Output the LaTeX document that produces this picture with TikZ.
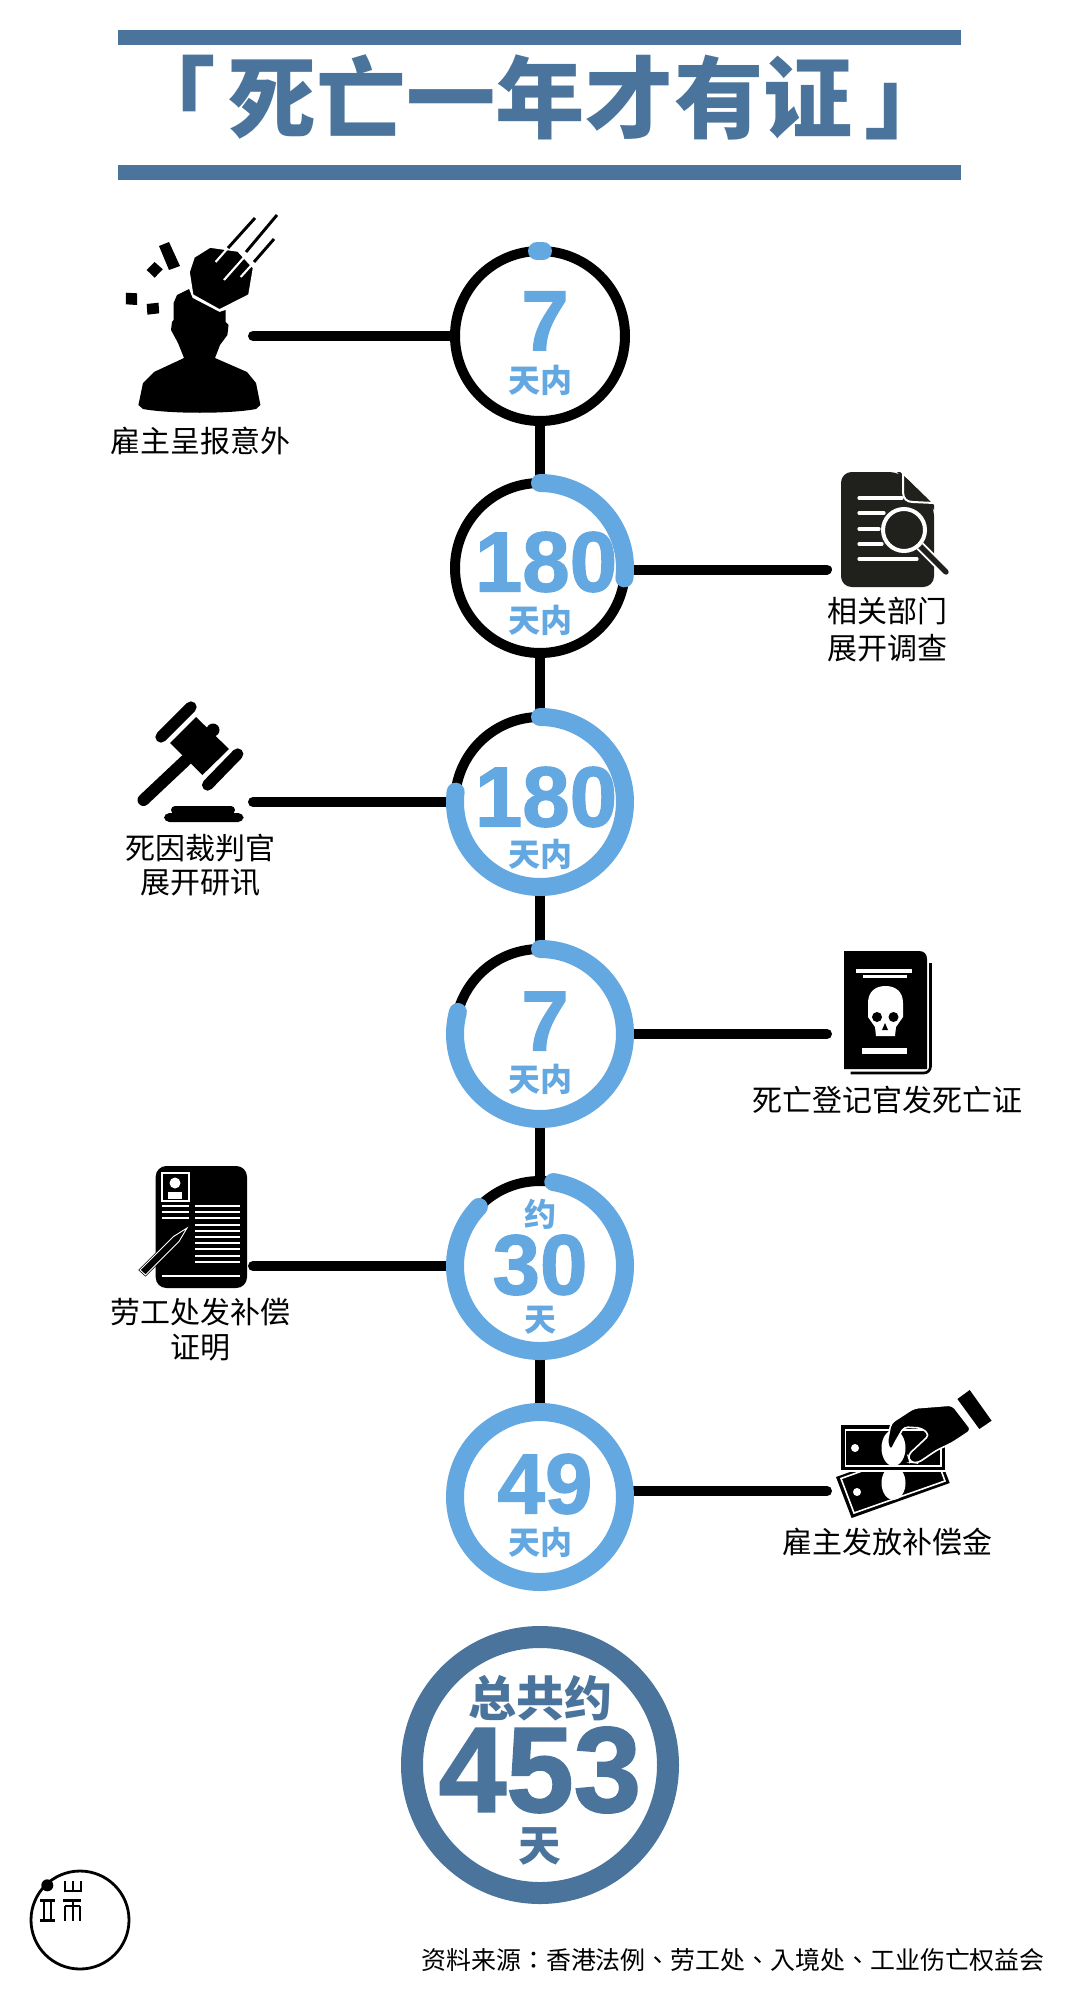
\documentclass[tikz,border=0pt]{standalone}
\usepackage{fontspec}
\usepackage{xcolor}
\usetikzlibrary{backgrounds}
\setmainfont{Liberation Sans}
\newfontfamily\numfont[BoldFeatures={FakeBold=1.5}]{Liberation Sans}
\newfontfamily\cjk{Noto Sans CJK SC}
\newfontfamily\cjkheavy{Noto Sans CJK SC Black}
\newfontfamily\cjktc{Noto Sans CJK TC}
\definecolor{dayblue}{HTML}{64A8E2}
\definecolor{totalblue}{HTML}{4A749B}
\definecolor{docgray}{HTML}{20201C}
\tikzset{
    ring/.style={circle,draw=black,line width=7.5pt,minimum size=127.5pt,inner sep=0pt},
    totalring/.style={circle,draw=totalblue,line width=16.5pt,minimum size=192pt,inner sep=0pt},
    link/.style={draw=black,line width=7.5pt,line cap=round},
    progress/.style={draw=dayblue,line width=13.5pt,line cap=round},
    daynum/.style={inner sep=0pt,text=dayblue,font=\numfont\bfseries\fontsize{64}{64}\selectfont},
    dayunit/.style={inner sep=0pt,text=dayblue,font=\cjk\bfseries\fontsize{24}{24}\selectfont},
    caption/.style={inner sep=0pt,text=black,font=\cjk\fontsize{22.5}{22.5}\selectfont},
    whiteline/.style={draw=white,line width=2.4pt,line cap=round}
}
\newcommand{\dayarc}[3]{% node, start angle, sweep
    \draw[progress] ([shift={(#2:85)}]#1.center) arc[start angle=#2,delta angle=#3,radius=85];
}
\begin{document}
\begin{tikzpicture}[x=0.75pt,y=-0.75pt]
    \useasboundingbox (0,0) rectangle (1080,2001);
    % Title
    \fill[totalblue] (118,30) rectangle (961,45);
    \fill[totalblue] (118,165) rectangle (961,180);
    \node[inner sep=0pt,text=totalblue,font=\cjkheavy\fontsize{67}{67}\selectfont] (title) at (540,97) {「\hspace{0.13em}死亡一年才有证\hspace{0.13em}」};
    % Rings
    \node[ring] (day1) at (540,336) {};
    \node[ring] (day2) at (540,568) {};
    \node[ring] (day3) at (540,802) {};
    \node[ring] (day4) at (540,1034) {};
    \node[ring] (day5) at (540,1266) {};
    \node[ring,draw=dayblue,line width=13.5pt] (day6) at (540,1497) {};
    \node[totalring] (total) at (540,1765) {};
    % Connectors
    \coordinate (end1) at (253,336);
    \coordinate (end2) at (827,569.5);
    \coordinate (end3) at (253,802);
    \coordinate (end4) at (827,1034);
    \coordinate (end5) at (253,1266);
    \coordinate (end6) at (827,1491);
    \begin{scope}[on background layer]
        \draw[link,line cap=butt] (day1) -- (day2);
        \draw[link,line cap=butt] (day2) -- (day3);
        \draw[link,line cap=butt] (day3) -- (day4);
        \draw[link,line cap=butt] (day4) -- (day5);
        \draw[link,line cap=butt] (day5) -- (day6);
        \draw[link] (end1) -- (day1);
        \draw[link] (end2) -- (day2.east |- end2);
        \draw[link] (end3) -- (day3);
        \draw[link] (end4) -- (day4);
        \draw[link] (end5) -- (day5);
        \draw[link] (end6) -- (day6.east |- end6);
    \end{scope}
    % Progress arcs
    \dayarc{day1}{-92}{4}
    \dayarc{day2}{-90}{97}
    \dayarc{day3}{-90}{277}
    \dayarc{day4}{-90}{285}
    \dayarc{day5}{-81}{305}
    % Numbers
    \node[daynum] (num1) at (545,321) {7};
    \node[dayunit] (unit1) at (540,380) {天内};
    \node[daynum] (num2) at (546,562) {180};
    \node[dayunit] (unit2) at (540,620) {天内};
    \node[daynum] (num3) at (546,797) {180};
    \node[dayunit] (unit3) at (540,854) {天内};
    \node[daynum] (num4) at (545,1021) {7};
    \node[dayunit] (unit4) at (540,1079) {天内};
    \node[dayunit] (about5) at (540,1214) {约};
    \node[daynum] (num5) at (540,1265) {30};
    \node[dayunit] (unit5) at (540,1320) {天};
    \node[daynum] (num6) at (545,1484) {49};
    \node[dayunit] (unit6) at (540,1542) {天内};
    \node[inner sep=0pt,text=totalblue,font=\cjkheavy\fontsize{36}{36}\selectfont] (totaltop) at (540,1698) {总共约};
    \node[inner sep=0pt,text=totalblue,font=\numfont\bfseries\fontsize{91}{91}\selectfont] (totalnum) at (540,1770) {453};
    \node[inner sep=0pt,text=totalblue,font=\cjkheavy\fontsize{32}{32}\selectfont] (totalunit) at (540,1846) {天};
    % Captions
    \node[caption] (cap1) at (200,441) {雇主呈报意外};
    \node[caption] (cap2a) at (887,611) {相关部门};
    \node[caption] (cap2b) at (887,648) {展开调查};
    \node[caption] (cap3a) at (200,848) {死因裁判官};
    \node[caption] (cap3b) at (200,883) {展开研讯};
    \node[caption] (cap4) at (887,1100) {死亡登记官发死亡证};
    \node[caption] (cap5a) at (200,1312) {劳工处发补偿};
    \node[caption] (cap5b) at (200,1348) {证明};
    \node[caption] (cap6) at (887,1542) {雇主发放补偿金};
    \node[inner sep=0pt,anchor=east,text=black,font=\cjktc\fontsize{18.7}{18.7}\selectfont] (source) at (1045,1960) {资料来源：香港法例、劳工处、入境处、工业伤亡权益会};
    % Worker and falling rock
    \fill (138.4,405) -- (143,383) -- (154,372) -- (184,358) -- (178,343) -- (171,330) -- (172,322) -- (173.6,320)
        -- (173.6,303) -- (177,295) -- (189,289) -- (192.6,298) -- (219.5,312) -- (225.6,310) -- (225.6,322)
        -- (228.5,325) -- (227.4,335) -- (220,345) -- (215,358) -- (247,372) -- (256,383) -- (260.4,405)
        -- (256,409) .. controls (230,414) and (170,414) .. (143,409) -- cycle;
    \filldraw[draw=white,line width=1.2pt] (189,272) -- (194,257) -- (210,247) -- (238,251) -- (253.6,268)
        -- (249,295) -- (219.5,310) -- (192.6,295) -- cycle;
    \draw[line width=2.2pt] (228,248) -- (255,218);
    \draw[line width=2.2pt] (246,252) -- (277,215);
    \draw[line width=2.2pt] (254,262) -- (274,239);
    \draw[white,line width=1.6pt] (215.6,262) -- (227,249);
    \draw[white,line width=1.6pt] (224,280) -- (247,254);
    \draw[white,line width=1.6pt] (240.7,277) -- (252.5,264);
    \fill (159,246) -- (169,242) -- (180,266) -- (169,270) -- cycle;
    \fill (154.6,262) -- (162.8,269.3) -- (154.6,277.7) -- (146.7,270) -- cycle;
    \fill (125.8,292.7) -- (137,293.3) -- (137,305) -- (125.8,304.3) -- cycle;
    \fill (146.7,304) -- (158.5,302.7) -- (159.2,313.3) -- (147.4,314.7) -- cycle;
    % Document and magnifier
    \begin{scope}[xshift=-2.25pt]
        \fill[docgray,rounded corners=8pt] (844,472) -- (903,472) -- (937,505) -- (937,587) -- (844,587) -- cycle;
        \fill[docgray] (900,472) -- (903,472) -- (937,505) -- (937,510) -- cycle;
        \draw[white,line width=1.5pt] (906,472) -- (906,492) .. controls (906,499) and (910,502) .. (916,502) -- (937,503);
        \foreach \liney/\lineend in {498/905,513/887,529/882,544/885,559/920}
            \draw[whiteline] (862,\liney) -- (\lineend,\liney);
        \draw[white,line width=7pt] (923,546) -- (949,572);
        \draw[docgray,line width=4pt,line cap=round] (923,546) -- (949,572);
        \filldraw[fill=docgray,draw=white,line width=3pt] (907,530) circle (21);
    \end{scope}
    % Gavel
    \draw[line width=9pt,line cap=round] (143.5,800) -- (186,760);
    \fill (196,717) -- (229,749) -- (202.4,775) -- (170,743) -- cycle;
    \fill (213,730) circle (6.5);
    \draw[line width=8.5pt,line cap=round] (161,737) -- (191,707);
    \draw[line width=8.5pt,line cap=round] (207.6,785) -- (237.7,754);
    \fill[rounded corners=3pt] (171,814) -- (171,806) -- (235,806) -- (235,814) -- cycle;
    \fill[rounded corners=4pt] (164,813) rectangle (243.6,822);
    % Death certificate
    \begin{scope}[xshift=-2.25pt]
        \fill (847,951) -- (922,951) .. controls (927,951) and (930,954) .. (930,959) -- (930,1069) -- (847,1069) -- cycle;
        \draw[line width=2pt,rounded corners=5pt] (933.5,963) -- (933.5,1073) -- (853.5,1073);
        \fill[white] (859,969) rectangle (915,973);
        \fill[white] (866,975) rectangle (910,978);
        \fill[white] (865,1048) rectangle (910,1053.5);
        \fill[white] (871,1003) .. controls (871,992) and (878,986) .. (888.5,986) .. controls (899,986) and (906,992) .. (906,1003)
            -- (906,1017) -- (899,1027) -- (898,1036) -- (879,1036) -- (878,1027) -- (871,1017) -- cycle;
        \fill (880,1017) circle (5);
        \fill (896.5,1017) circle (5);
        \fill (888,1023) -- (891,1030) -- (885,1030) -- cycle;
    \end{scope}
    % Personal file and pencil
    \begin{scope}[xshift=-0.75pt]
        \fill[rounded corners=8pt] (156.7,1166) rectangle (248,1288);
        \draw[white,line width=1.2pt] (163,1173) rectangle (190,1201);
        \fill[white] (176,1183) circle (5.5);
        \fill[white] (169,1199) -- (169,1192) -- (183,1192) -- (183,1199) -- cycle;
        \foreach \liney in {1206,1212,1218}
            \draw[white,line width=1.4pt] (163,\liney) -- (190,\liney);
        \foreach \row in {0,...,9}
            \draw[white,line width=1.4pt] (196,1206+\row*6.2) -- (240.7,1206+\row*6.2);
        \draw[white,line width=1.6pt] (163,1275.7) -- (240.7,1275.7);
        \filldraw[line width=1.8pt] (188,1228) -- (174.5,1236.5) -- (141,1270) -- (146.5,1275) -- (180,1241.5) -- cycle;
        \draw[white,line width=0.7pt] (188,1228) -- (174.5,1236.5) -- (141,1270) -- (146.5,1275) -- (180,1241.5) -- cycle;
    \end{scope}
    % Bank notes and hand
    \begin{scope}[xshift=-2.25pt]
        \fill (839,1477) -- (937,1442) -- (952.7,1483) -- (854.6,1518) -- cycle;
        \draw[white,line width=1.2pt] (844,1478.5) -- (935,1446) -- (948,1481) -- (857,1513) -- cycle;
        \fill[white] (860,1492) circle (4);
        \fill[white] (896.5,1483) ellipse (12 and 17);
        \filldraw[draw=white,line width=1.5pt] (843,1424) rectangle (948.5,1471);
        \draw[white,line width=1.2pt] (848.5,1430) rectangle (944,1466);
        \fill[white] (858,1448) circle (4);
        \fill[white] (896.5,1448) ellipse (12 and 18);
        \filldraw[draw=white,line width=1.2pt,rounded corners=3pt] (955.4,1405) -- (974.6,1430) -- (955,1443) -- (940,1450) -- (920.8,1463)
            -- (913,1462) -- (911,1455) -- (932.3,1435) -- (924.6,1428) -- (907,1427) -- (897.7,1443) -- (894,1451)
            -- (890,1443) -- (894,1423) -- (917,1408) -- cycle;
        \fill (972.7,1390) -- (994.6,1420.7) -- (982.3,1429) -- (960.4,1399) -- cycle;
    \end{scope}
    % Logo
    \draw[line width=2.1pt] (80,1920) circle (49);
    \fill (47.3,1885.3) circle (6);
    \draw[line width=1.8pt] (65,1881) -- (65,1891) -- (81,1891) -- (81,1881) (73,1881) -- (73,1891);
    \draw[line width=1.8pt] (40,1900.5) -- (55,1900.5) (40,1920.5) -- (55,1920.5) (44,1900) -- (44,1920) (51,1900) -- (51,1920);
    \draw[line width=1.8pt] (63.3,1900.5) -- (81.3,1900.5) (65,1906) -- (80,1906) (65,1906) -- (65,1921) (73,1900) -- (73,1921) (80,1906) -- (80,1921);
\end{tikzpicture}
\end{document}
